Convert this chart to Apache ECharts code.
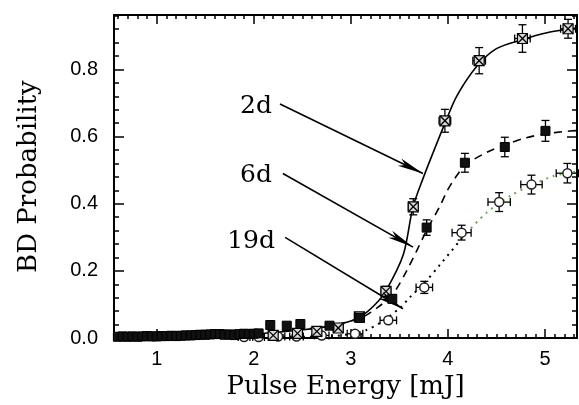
<!DOCTYPE html>
<html>
<head>
<meta charset="utf-8">
<script src="https://cdn.jsdelivr.net/npm/echarts@6.0.0/dist/echarts.min.js"></script>
<style>
  html, body { margin: 0; padding: 0; background: #fff; }
  #chart { width: 579px; height: 405px; }
</style>
</head>
<body>
<div id="chart"></div>
<script>
// measured points: [energy, probability, x error, y error]
var pts2d = [
  [2.20, 0.008, 0.04, 0.004], [2.45, 0.014, 0.045, 0.005],
  [2.65, 0.020, 0.045, 0.006], [2.87, 0.030, 0.05, 0.008], [3.088, 0.063, 0.05, 0.012],
  [3.362, 0.139, 0.05, 0.015], [3.643, 0.391, 0.05, 0.024], [3.969, 0.647, 0.06, 0.034],
  [4.322, 0.826, 0.065, 0.039], [4.768, 0.892, 0.08, 0.041], [5.238, 0.921, 0.077, 0.028]
];
var pts6d = [
  [0.60, 0.004, 0.02, 0.003], [0.65, 0.005, 0.02, 0.003], [0.70, 0.004, 0.02, 0.003],
  [0.75, 0.005, 0.02, 0.003], [0.80, 0.004, 0.02, 0.003], [0.85, 0.005, 0.02, 0.003],
  [0.90, 0.006, 0.02, 0.003], [0.95, 0.005, 0.02, 0.003], [1.00, 0.005, 0.02, 0.003],
  [1.05, 0.006, 0.02, 0.003], [1.10, 0.006, 0.02, 0.003], [1.15, 0.007, 0.02, 0.003],
  [1.20, 0.006, 0.02, 0.003], [1.25, 0.007, 0.02, 0.003], [1.30, 0.008, 0.02, 0.003],
  [1.35, 0.008, 0.02, 0.003], [1.40, 0.009, 0.02, 0.003], [1.45, 0.010, 0.02, 0.004],
  [1.50, 0.010, 0.02, 0.004], [1.55, 0.011, 0.02, 0.004], [1.60, 0.012, 0.02, 0.004],
  [1.65, 0.012, 0.02, 0.004], [1.70, 0.010, 0.02, 0.004], [1.75, 0.011, 0.02, 0.004],
  [1.80, 0.009, 0.02, 0.004], [1.85, 0.012, 0.02, 0.004], [1.90, 0.013, 0.02, 0.004],
  [1.95, 0.012, 0.02, 0.004], [2.00, 0.013, 0.02, 0.004], [2.05, 0.014, 0.02, 0.004],
  [2.17, 0.039, 0.02, 0.006], [2.34, 0.037, 0.02, 0.006],
  [2.48, 0.042, 0.02, 0.006], [2.78, 0.037, 0.02, 0.006], [3.095, 0.060, 0.03, 0.008],
  [3.427, 0.117, 0.03, 0.012], [3.781, 0.329, 0.03, 0.023], [4.175, 0.522, 0.03, 0.028],
  [4.586, 0.569, 0.03, 0.029], [5.005, 0.617, 0.03, 0.031]
];
var pts19d = [
  [1.90, 0.003, 0.06, 0.003], [2.05, 0.003, 0.06, 0.003], [2.25, 0.005, 0.07, 0.003],
  [2.44, 0.005, 0.07, 0.003], [2.70, 0.008, 0.075, 0.004], [3.043, 0.013, 0.08, 0.005],
  [3.386, 0.053, 0.085, 0.008], [3.757, 0.151, 0.085, 0.018], [4.141, 0.314, 0.098, 0.022],
  [4.528, 0.405, 0.115, 0.028], [4.861, 0.457, 0.11, 0.028], [5.231, 0.491, 0.115, 0.029]
];

// fitted curves
var fit2d = [
  [0.56, 0.003], [1.0, 0.004], [1.5, 0.007], [2.0, 0.012], [2.48, 0.024], [2.7, 0.032],
  [2.92, 0.044], [3.1, 0.064], [3.25, 0.10], [3.36, 0.14], [3.54, 0.248], [3.64, 0.39],
  [3.75, 0.48], [3.85, 0.554], [3.97, 0.64], [4.09, 0.72], [4.3, 0.81], [4.5, 0.862],
  [4.77, 0.889], [5.02, 0.909], [5.24, 0.92], [5.33, 0.923]
];
var fit6d = [
  [0.56, 0.004], [1.0, 0.006], [1.5, 0.009], [2.0, 0.015], [2.5, 0.026], [2.81, 0.038],
  [3.1, 0.06], [3.27, 0.09], [3.43, 0.13], [3.575, 0.2], [3.78, 0.32], [3.92, 0.394],
  [3.99, 0.437], [4.07, 0.475], [4.18, 0.515], [4.4, 0.553], [4.59, 0.575], [4.8, 0.596],
  [5.0, 0.608], [5.2, 0.615], [5.33, 0.618]
];
var fit19dLow = [
  [0.56, 0.001], [1.5, 0.002], [2.5, 0.004], [2.82, 0.006], [3.03, 0.014], [3.16, 0.024],
  [3.3, 0.045], [3.506, 0.09], [3.61, 0.122], [3.76, 0.165], [3.92, 0.219], [4.14, 0.296]
];
var fit19dHigh = [
  [4.14, 0.296], [4.4, 0.374], [4.67, 0.428], [4.9, 0.46], [5.08, 0.482], [5.33, 0.496]
];

var xLabels = [1, 2, 3, 4, 5];
var yLabels = [0, 0.2, 0.4, 0.6, 0.8];

var xMinor = [], yMinor = [];
for (var i = 6; i <= 53; i++) xMinor.push(i / 10);
for (var j = 1; j <= 24; j++) yMinor.push(j * 0.04);

var X_MIN = 0.56, X_MAX = 5.33, Y_MIN = 0, Y_MAX = 0.962;

var myChart = echarts.init(document.getElementById('chart'));

function errRender(kind) {
  return function (params, api) {
    var x = api.value(0), y = api.value(1), dx = api.value(2), dy = api.value(3);
    var c = api.coord([x, y]);
    var l = api.coord([x - dx, y]), r = api.coord([x + dx, y]);
    var t = api.coord([x, y + dy]), b = api.coord([x, y - dy]);
    var st = { stroke: '#000', lineWidth: 1.3, fill: null };
    var cap = 4;
    var ch = [];
    ch.push({ type: 'line', shape: { x1: l[0], y1: c[1], x2: r[0], y2: c[1] }, style: st });
    ch.push({ type: 'line', shape: { x1: l[0], y1: c[1] - cap, x2: l[0], y2: c[1] + cap }, style: st });
    ch.push({ type: 'line', shape: { x1: r[0], y1: c[1] - cap, x2: r[0], y2: c[1] + cap }, style: st });
    ch.push({ type: 'line', shape: { x1: c[0], y1: t[1], x2: c[0], y2: b[1] }, style: st });
    ch.push({ type: 'line', shape: { x1: c[0] - cap, y1: t[1], x2: c[0] + cap, y2: t[1] }, style: st });
    ch.push({ type: 'line', shape: { x1: c[0] - cap, y1: b[1], x2: c[0] + cap, y2: b[1] }, style: st });
    if (kind === '2d') {
      var s = 5;
      ch.push({ type: 'rect', shape: { x: c[0] - s, y: c[1] - s, width: 2 * s, height: 2 * s },
        style: { fill: '#d8d8d8', stroke: '#000', lineWidth: 1.2 } });
      ch.push({ type: 'line', shape: { x1: c[0] - s, y1: c[1] - s, x2: c[0] + s, y2: c[1] + s }, style: st });
      ch.push({ type: 'line', shape: { x1: c[0] - s, y1: c[1] + s, x2: c[0] + s, y2: c[1] - s }, style: st });
    } else if (kind === '6d') {
      ch.push({ type: 'rect', shape: { x: c[0] - 4.5, y: c[1] - 4.5, width: 9, height: 9 },
        style: { fill: '#111', stroke: '#000', lineWidth: 1 } });
    } else {
      ch.push({ type: 'circle', shape: { cx: c[0], cy: c[1], r: 4.5 },
        style: { fill: '#fff', stroke: '#222', lineWidth: 1.5 } });
    }
    return { type: 'group', children: ch };
  };
}

function xAx(pos, ticks, len, showLine, showLabel) {
  return {
    type: 'value', position: pos, min: X_MIN, max: X_MAX,
    axisLine: { show: showLine, onZero: false, lineStyle: { color: '#000', width: 2 } },
    axisTick: { show: true, inside: true, length: len, customValues: ticks,
      lineStyle: { color: '#000', width: 1.5 } },
    axisLabel: { show: showLabel, customValues: xLabels, margin: 11, color: '#000',
      fontFamily: 'Liberation Sans', fontSize: 20 },
    splitLine: { show: false }
  };
}
function yAx(pos, ticks, len, showLine, showLabel) {
  return {
    type: 'value', position: pos, min: Y_MIN, max: Y_MAX,
    axisLine: { show: showLine, onZero: false, lineStyle: { color: '#000', width: 2 } },
    axisTick: { show: true, inside: true, length: len, customValues: ticks,
      lineStyle: { color: '#000', width: 1.5 } },
    axisLabel: { show: showLabel, customValues: yLabels, margin: 16, color: '#000',
      fontFamily: 'Liberation Sans', fontSize: 20,
      formatter: function (v) { return v.toFixed(1); } },
    splitLine: { show: false }
  };
}

var xBottom = xAx('bottom', xLabels, 9, true, true);
xBottom.name = 'Pulse Energy [mJ]';
xBottom.nameLocation = 'middle';
xBottom.nameGap = 34;
xBottom.nameTextStyle = { fontFamily: 'DejaVu Serif', fontSize: 26, color: '#000' };

var yLeft = yAx('left', yLabels, 10, true, true);
yLeft.name = 'BD Probability';
yLeft.nameLocation = 'middle';
yLeft.nameGap = 72;
yLeft.nameTextStyle = { fontFamily: 'DejaVu Serif', fontSize: 26, color: '#000' };

var arrowLines = [
  [{ coord: [2.27, 0.697] }, { coord: [3.743, 0.49] }],
  [{ coord: [2.30, 0.49] }, { coord: [3.64, 0.271] }],
  [{ coord: [2.323, 0.30] }, { coord: [3.537, 0.0875] }]
];

option = {
  backgroundColor: '#fff',
  animation: false,
  grid: { left: 114, top: 15, right: 2, bottom: 60 },
  xAxis: [
    xBottom,
    xAx('bottom', xMinor, 4, false, false),
    xAx('top', xLabels, 9, true, false),
    xAx('top', xMinor, 4, false, false)
  ],
  yAxis: [
    yLeft,
    yAx('left', yMinor, 5, false, false),
    yAx('right', yLabels, 10, true, false),
    yAx('right', yMinor, 5, false, false)
  ],
  graphic: [
    { type: 'text', right: 579 - 272, top: 94,
      style: { text: '2d', font: '25px "DejaVu Serif"', fill: '#000' } },
    { type: 'text', right: 579 - 272, top: 163,
      style: { text: '6d', font: '25px "DejaVu Serif"', fill: '#000' } },
    { type: 'text', right: 579 - 275, top: 229,
      style: { text: '19d', font: '25px "DejaVu Serif"', fill: '#000' } }
  ],
  series: [
    {
      name: '2d fit', type: 'line', data: fit2d, smooth: 0.3, showSymbol: false,
      lineStyle: { color: '#000', width: 1.6, type: 'solid' }, z: 2,
      markLine: {
        silent: true, symbol: ['none', 'arrow'], symbolSize: [6, 26],
        label: { show: false },
        lineStyle: { color: '#000', width: 1.6, type: 'solid' },
        data: arrowLines
      }
    },
    {
      name: '6d fit', type: 'line', data: fit6d, smooth: 0.3, showSymbol: false,
      lineStyle: { color: '#000', width: 1.6, type: [8, 6] }, z: 2
    },
    {
      name: '19d fit', type: 'line', data: fit19dLow, smooth: 0.3, showSymbol: false,
      lineStyle: { color: '#000', width: 2, type: [2, 5] }, z: 2
    },
    {
      name: '19d fit upper', type: 'line', data: fit19dHigh, smooth: 0.3, showSymbol: false,
      lineStyle: { color: '#6aab4f', width: 2, type: [2, 5] }, z: 2
    },
    { name: '19d', type: 'custom', data: pts19d, renderItem: errRender('19d'), clip: false, z: 3 },
    { name: '2d', type: 'custom', data: pts2d, renderItem: errRender('2d'), clip: false, z: 4 },
    { name: '6d', type: 'custom', data: pts6d, renderItem: errRender('6d'), clip: false, z: 5 }
  ]
};

myChart.setOption(option);
</script>
</body>
</html>
